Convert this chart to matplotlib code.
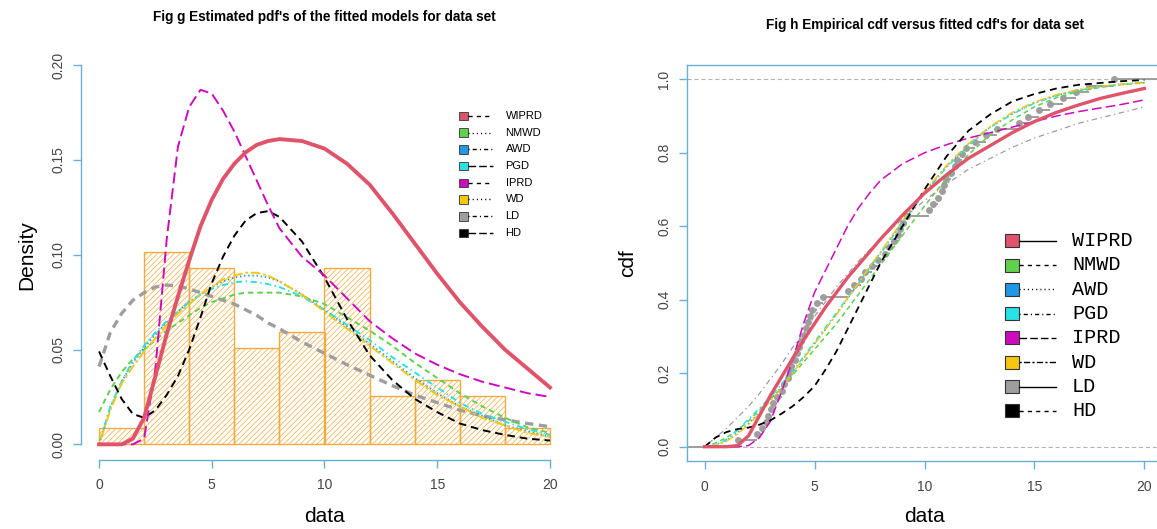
import numpy as np
import matplotlib
matplotlib.use("Agg")
import matplotlib.pyplot as plt
from matplotlib.lines import Line2D
from matplotlib.patches import Rectangle

plt.rcParams['font.family'] = ['Liberation Sans', 'DejaVu Sans']
plt.rcParams['lines.scale_dashes'] = False
plt.rcParams['hatch.linewidth'] = 0.5

obs = [1.5,
       2.4, 2.6, 2.8, 2.9, 3.0, 3.1, 3.3, 3.5, 3.6, 3.8, 3.9, 3.95,
       4.1, 4.2, 4.3, 4.4, 4.5, 4.6, 4.7, 4.8, 4.9, 5.1, 5.4,
       6.5, 6.8, 7.1, 7.3, 7.6, 7.9,
       8.2, 8.4, 8.6, 8.8, 8.9, 9.0, 9.2,
       10.2, 10.4, 10.6, 10.8, 10.9, 11.0, 11.2, 11.4, 11.5, 11.7, 11.9,
       12.3, 12.8, 13.3,
       14.3, 14.7, 15.2, 15.7,
       16.3, 16.9, 17.5,
       18.6]
hist_breaks = [0, 2, 4, 6, 8, 10, 12, 14, 16, 18, 20]

models = ["WIPRD", "NMWD", "AWD", "PGD", "IPRD", "WD", "LD", "HD"]
colors = ["#DF536B", "#61D04F", "#2297E6", "#28E2E5", "#CD0BBC", "#F5C710", "#9E9E9E", "#000000"]

x_grid = [0, 0.5, 1, 1.5, 2, 2.5, 3, 3.5, 4, 4.5, 5, 5.5, 6, 6.5, 7, 7.5, 8,
          9, 10, 11, 12, 13, 14, 15, 16, 17, 18, 19, 20]

# fitted densities
pdf_wiprd = [0, 0, 0, 0.003, 0.014, 0.036, 0.058, 0.078, 0.097, 0.115, 0.129, 0.140, 0.148, 0.154,
             0.158, 0.160, 0.161, 0.160, 0.156, 0.148, 0.137, 0.122, 0.106, 0.090, 0.075, 0.062,
             0.050, 0.040, 0.030]
pdf_nmwd = [0.017, 0.029, 0.038, 0.045, 0.050, 0.055, 0.060, 0.064, 0.068, 0.072, 0.075, 0.077, 0.079,
            0.080, 0.080, 0.080, 0.080, 0.078, 0.074, 0.067, 0.060, 0.052, 0.043, 0.035, 0.027, 0.020,
            0.014, 0.009, 0.006]
pdf_awd = [0.0, 0.019, 0.033, 0.043, 0.051, 0.058, 0.064, 0.070, 0.075, 0.079, 0.083, 0.086, 0.088,
           0.089, 0.089, 0.088, 0.086, 0.079, 0.071, 0.062, 0.053, 0.044, 0.035, 0.027, 0.020, 0.015,
           0.010, 0.007, 0.004]
pdf_pgd = [0.0, 0.020, 0.033, 0.044, 0.052, 0.059, 0.065, 0.070, 0.075, 0.079, 0.082, 0.084, 0.0855,
           0.086, 0.0855, 0.0845, 0.083, 0.078, 0.071, 0.063, 0.055, 0.046, 0.038, 0.030, 0.022, 0.016,
           0.012, 0.008, 0.005]
pdf_iprd = [0, 0, 0, 0, 0.003, 0.040, 0.108, 0.157, 0.178, 0.187, 0.185, 0.176, 0.165, 0.152, 0.139,
            0.126, 0.114, 0.099, 0.089, 0.077, 0.065, 0.056, 0.048, 0.042, 0.037, 0.033, 0.030,
            0.027, 0.025]
pdf_wd = [0.0, 0.018, 0.032, 0.041, 0.049, 0.056, 0.063, 0.069, 0.074, 0.079, 0.083, 0.087, 0.089,
          0.0905, 0.0905, 0.089, 0.086, 0.079, 0.070, 0.061, 0.052, 0.043, 0.034, 0.026, 0.020, 0.014,
          0.010, 0.006, 0.004]
pdf_ld = [0.041, 0.059, 0.069, 0.076, 0.080, 0.083, 0.084, 0.0835, 0.082, 0.080, 0.078, 0.076, 0.074,
          0.071, 0.068, 0.064, 0.061, 0.054, 0.048, 0.042, 0.0365, 0.031, 0.026, 0.022, 0.018, 0.015,
          0.013, 0.011, 0.0093]
pdf_hd = [0.049, 0.036, 0.024, 0.016, 0.014, 0.018, 0.026, 0.036, 0.050, 0.067, 0.085, 0.099, 0.110,
          0.118, 0.122, 0.123, 0.120, 0.107, 0.088, 0.066, 0.047, 0.034, 0.024, 0.017, 0.011, 0.0075,
          0.005, 0.003, 0.002]

# fitted cdfs
cdf_wiprd = [0, 0, 0, 0.003, 0.03, 0.085, 0.14, 0.19, 0.24, 0.29, 0.335, 0.38, 0.42, 0.46, 0.495,
             0.53, 0.565, 0.63, 0.69, 0.74, 0.785, 0.82, 0.855, 0.885, 0.91, 0.93, 0.948, 0.962, 0.975]
cdf_nmwd = [0, 0.01, 0.025, 0.045, 0.07, 0.1, 0.13, 0.16, 0.195, 0.23, 0.265, 0.3, 0.335, 0.375, 0.415,
            0.455, 0.495, 0.575, 0.655, 0.73, 0.795, 0.85, 0.89, 0.925, 0.95, 0.967, 0.978, 0.986, 0.99]
cdf_awd = [0, 0.004, 0.017, 0.038, 0.063, 0.093, 0.127, 0.163, 0.2, 0.24, 0.28, 0.32, 0.36, 0.403,
           0.445, 0.488, 0.528, 0.612, 0.692, 0.762, 0.822, 0.87, 0.907, 0.936, 0.956, 0.97, 0.98,
           0.987, 0.991]
cdf_pgd = [0, 0.005, 0.02, 0.045, 0.075, 0.105, 0.135, 0.17, 0.205, 0.245, 0.285, 0.325, 0.365, 0.405,
           0.445, 0.485, 0.525, 0.61, 0.69, 0.76, 0.82, 0.87, 0.905, 0.935, 0.955, 0.97, 0.98, 0.987,
           0.992]
cdf_iprd = [0, 0, 0, 0, 0.003, 0.025, 0.07, 0.15, 0.235, 0.335, 0.42, 0.48, 0.54, 0.6, 0.65, 0.69,
            0.725, 0.77, 0.8, 0.822, 0.84, 0.855, 0.87, 0.885, 0.9, 0.912, 0.922, 0.932, 0.944]
cdf_wd = [0, 0.004, 0.015, 0.035, 0.06, 0.09, 0.125, 0.16, 0.2, 0.24, 0.28, 0.32, 0.36, 0.405, 0.445,
          0.49, 0.53, 0.615, 0.695, 0.765, 0.825, 0.872, 0.91, 0.938, 0.958, 0.972, 0.981, 0.987, 0.991]
cdf_ld = [0, 0.025, 0.05, 0.08, 0.11, 0.145, 0.185, 0.225, 0.27, 0.31, 0.355, 0.395, 0.435, 0.47,
          0.505, 0.535, 0.565, 0.62, 0.67, 0.715, 0.755, 0.785, 0.815, 0.84, 0.86, 0.88, 0.895, 0.91,
          0.925]
cdf_hd = [0, 0.025, 0.04, 0.048, 0.052, 0.06, 0.072, 0.09, 0.11, 0.135, 0.165, 0.21, 0.26, 0.32, 0.38,
          0.44, 0.5, 0.6, 0.7, 0.79, 0.86, 0.905, 0.94, 0.96, 0.975, 0.985, 0.99, 0.995, 0.998]

pdfs = [pdf_wiprd, pdf_nmwd, pdf_awd, pdf_pgd, pdf_iprd, pdf_wd, pdf_ld, pdf_hd]
cdfs = [cdf_wiprd, cdf_nmwd, cdf_awd, cdf_pgd, cdf_iprd, cdf_wd, cdf_ld, cdf_hd]

W, H = 1157, 529
def fx(px):
    return px / W
def fy(py):
    return 1 - py / H

# R like line types (in points)
SOLID = '-'
DASHED = (0, (3, 3))
DOTTED = (0, (0.8, 2.2))
DOTDASH = (0, (0.8, 2.2, 3, 2.2))
LONGDASH = (0, (5.5, 2.2))
TWODASH = (0, (1.6, 1.6, 4.5, 1.6))

axis_col = "#6AAED6"
tick_col = "#444444"
hist_col = "#F2AB3C"

fig = plt.figure(figsize=(W / 100, H / 100), dpi=100)

# ---------------- left panel: pdfs ----------------
ax1 = fig.add_axes([fx(81), fy(459.5), fx(568) - fx(81), fy(50) - fy(459.5)])
ax1.hist(obs, bins=hist_breaks, density=True, facecolor='none', edgecolor=hist_col,
         hatch='//////', linewidth=1.0)

pdf_styles = [
    (SOLID, 2.8),
    ((0, (4, 2.8)), 1.4),
    ((0, (1, 2)), 1.4),
    ((0, (1, 2.5, 4.5, 2.5)), 1.4),
    ((0, (8, 3.5)), 1.4),
    ((0, (2, 2, 7, 2)), 1.4),
    ((0, (6, 4)), 2.4),
    ((0, (5.5, 3.5)), 1.4),
]
for i in [6, 1, 2, 3, 5, 7, 4, 0]:
    ls, lw = pdf_styles[i]
    ax1.plot(x_grid, pdfs[i], color=colors[i], linestyle=ls, linewidth=lw)

ax1.set_xlim(-0.8, 20.8)
ax1.set_ylim(-0.008, 0.208)
ax1.set_xticks([0, 5, 10, 15, 20])
ax1.set_yticks([0, 0.05, 0.10, 0.15, 0.20])
ax1.set_yticklabels(["0.00", "0.05", "0.10", "0.15", "0.20"])
for s in ['top', 'right']:
    ax1.spines[s].set_visible(False)
ax1.spines['left'].set_bounds(0, 0.2)
ax1.spines['bottom'].set_bounds(0, 20)

# ---------------- right panel: cdfs ----------------
ax2 = fig.add_axes([fx(687), fy(461.4), fx(1162) - fx(687), fy(64.6) - fy(461.4)])
ax2.set_xlim(-0.8, 20.8)
ax2.set_ylim(-0.04, 1.04)
ax2.axhline(0, color="#B3B3B3", linestyle=(0, (3, 2)), linewidth=0.8)
ax2.axhline(1, color="#B3B3B3", linestyle=(0, (3, 2)), linewidth=0.8)

xs = np.sort(obs)
n = len(xs)
Fn = np.arange(1, n + 1) / n
seg_x = np.concatenate([[-0.8], xs, [20.8]])
seg_y = np.concatenate([[0], Fn])
ax2.hlines(seg_y, seg_x[:-1], seg_x[1:], color=colors[6], linewidth=1.4)
ax2.plot(xs, Fn, 'o', color=colors[6], markersize=5, markeredgewidth=0)

cdf_styles = [
    (SOLID, 2.4),
    ((0, (3.5, 2.5)), 1.1),
    ((0, (1, 2)), 1.1),
    ((0, (1, 2.5, 4, 2.5)), 1.1),
    ((0, (7, 3)), 1.1),
    ((0, (2, 2, 6, 2)), 1.1),
    ((0, (1, 2.5, 4, 2.5)), 0.9),
    ((0, (5, 3.5)), 1.3),
]
for i in [6, 1, 2, 3, 5, 4, 7, 0]:
    ls, lw = cdf_styles[i]
    ax2.plot(x_grid, cdfs[i], color=colors[i], linestyle=ls, linewidth=lw)

ax2.set_xticks([0, 5, 10, 15, 20])
ax2.set_yticks([0, 0.2, 0.4, 0.6, 0.8, 1.0])
ax2.set_yticklabels(["0.0", "0.2", "0.4", "0.6", "0.8", "1.0"])

for ax in (ax1, ax2):
    for s in ax.spines.values():
        s.set_color(axis_col)
        s.set_linewidth(1.0)
    ax.tick_params(axis='both', colors=axis_col, labelcolor=tick_col, labelsize=10,
                   length=5.5, width=1.0)
    ax.tick_params(axis='x', pad=8)
    ax.tick_params(axis='y', labelrotation=90, pad=6)
    for lab in ax.get_yticklabels():
        lab.set_verticalalignment('center')
    ax.set_facecolor('none')

# titles and axis labels
fig.text(fx(324.5), fy(17), "Fig g Estimated pdf's of the fitted models for data set",
         ha='center', va='center', fontsize=9.8, fontweight='bold')
fig.text(fx(924.5), fy(25), "Fig h Empirical cdf versus fitted cdf's for data set",
         ha='center', va='center', fontsize=9.8, fontweight='bold')
fig.text(fx(324.5), fy(517), "data", ha='center', va='center', fontsize=15)
fig.text(fx(924.5), fy(517), "data", ha='center', va='center', fontsize=15)
fig.text(fx(27), fy(255), "Density", ha='center', va='center', fontsize=15, rotation=90)
fig.text(fx(628), fy(263), "cdf", ha='center', va='center', fontsize=15, rotation=90)

# left legend (box + black line + label)
leg1_lines = [DASHED, DOTTED, DOTDASH, LONGDASH]
for i, name in enumerate(models):
    yc = 116 + 16.7 * i
    fig.add_artist(Rectangle((fx(458.5), fy(yc + 4.3)), fx(467.5) - fx(458.5), fy(yc - 4.3) - fy(yc + 4.3),
                             transform=fig.transFigure, facecolor=colors[i], edgecolor='#333333', linewidth=0.6))
    fig.add_artist(Line2D([fx(467.5), fx(493)], [fy(yc), fy(yc)], transform=fig.transFigure,
                          color='black', linewidth=1.0, linestyle=leg1_lines[i % 4]))
    fig.text(fx(505.6), fy(yc), name, ha='left', va='center', fontsize=8)

# right legend
leg2_lines = [SOLID, DASHED, DOTTED, DOTDASH, LONGDASH, TWODASH, SOLID, DASHED]
for i, name in enumerate(models):
    yc = 240.7 + 24.3 * i
    fig.add_artist(Rectangle((fx(1005), fy(yc + 6.5)), fx(1019) - fx(1005), fy(yc - 6.5) - fy(yc + 6.5),
                             transform=fig.transFigure, facecolor=colors[i], edgecolor='#333333', linewidth=0.8))
    fig.add_artist(Line2D([fx(1019), fx(1056)], [fy(yc), fy(yc)], transform=fig.transFigure,
                          color='black', linewidth=1.0, linestyle=leg2_lines[i]))
    fig.text(fx(1072), fy(yc), name, ha='left', va='center', fontsize=14.5,
             family=['Liberation Mono', 'DejaVu Sans Mono'])

fig.savefig("out.png", dpi=100)
